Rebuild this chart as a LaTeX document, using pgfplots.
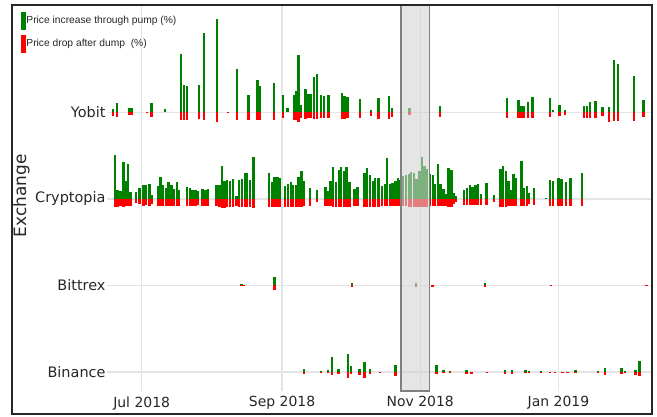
\documentclass[border=0pt]{standalone}
\usepackage{pgfplots}
\pgfplotsset{compat=1.18}
\usepackage{pgfplotstable}
\usepackage{fontspec}
\setmainfont{DejaVu Sans}
\newfontfamily\legendfont{Liberation Sans}
\definecolor{pgreen}{RGB}{0,128,0}
\definecolor{pred}{RGB}{255,0,0}
\definecolor{gridc}{RGB}{228,228,228}
\definecolor{boxc}{RGB}{211,211,211}
\definecolor{boxline}{RGB}{128,128,128}

% day = days since 1 Jul 2018; h = pump height, d = dump depth
\pgfplotstableread{
day h d
-12.7 3 3.3
-10.8 9 4.3
-5.7 4.7 2.7
-4.4 4.7 2.7
2.3 0.7 1
4.4 9 4.3
10.4 3 0
17.5 58 7.7
18.7 27 7.7
20.0 26 7.7
25.3 27 7
27.4 79 7.7
33.2 93 9.3
38.1 0 0.5
42.2 43 7.7
47.2 17 7.7
51.2 32 7.7
52.2 26 7.7
58.5 29 7.7
62.4 17 6
64.3 4 0
67.4 17 7.7
68.4 21 7.7
69.3 57 9.3
70.3 7 6
72.4 23 6.7
73.4 18 6
74.6 18 6
76.2 35 6.7
77.4 38 6.7
79.3 17 6
80.5 16 6
82.5 17 6
88.4 19 6.7
89.5 16 6.7
90.8 15 6
96.4 13 6
101.2 2.3 3.3
104.5 14 6.7
109.3 16 6.7
110.5 4 5
118.3 4 2.7
131.6 6 4.3
161.4 14 6
166.4 12 6
167.6 6 6
168.7 6.5 6
170.6 10 6
172.5 15 6
180.3 14 5
181.5 2 0
184.4 7 3.7
186.8 2 2.7
195.4 6 6
196.6 6 6
197.8 10 6
200.4 11 6
203.4 5 3.7
206.4 5 10
208.5 52 8.3
210.4 48 8.3
217.3 36 8.3
221.5 12 5
}\yobit

\pgfplotstableread{
day h d
-11.8 43.7 8.3
-10.6 8.7 8.3
-9.3 7.7 7.3
-8.1 37 8.3
-7.1 17.7 7.3
-6.0 35 7.3
-5.0 7 7.3
-2.6 7 4
-0.9 11 5
0.9 13.7 7.3
2.0 14.3 6
3.4 15 7.3
4.5 4.3 5
7.2 12.7 7.3
8.4 21.7 7.3
9.5 14.3 7.3
10.7 11 7.3
11.9 17 7.3
13.1 14.3 7.3
14.3 10.3 7.3
15.5 17 7.3
16.6 9.3 7.3
20.1 12.3 7.3
21.3 11 7.3
22.5 9.3 7.3
23.7 9.3 7.3
24.9 8.3 6
26.9 10.3 7.3
28.1 9 7.3
29.3 10.3 7.3
33.1 13.7 7.3
34.3 14.3 8.3
35.5 33 9
36.6 18.3 9
37.8 19 8.3
39.0 18.3 8.3
40.4 20.3 8.3
41.9 2.7 7.3
43.1 19 8.3
44.3 20 8.3
45.5 26 8.3
46.6 26 8.3
47.8 19.3 8.3
49.3 42.3 9
56.3 26 8.3
57.5 17 8.3
58.7 21.7 8.3
59.9 21.7 8.3
60.9 21 8.3
63.4 13.3 8.3
64.6 15 8.3
65.8 17 8.3
66.9 14.3 8.3
68.1 14.3 8.3
69.3 21.7 8.3
70.5 27.7 8.3
71.5 17.7 7.3
74.3 11 7.3
77.3 9.3 3
81.1 11.7 7.3
82.3 7.7 7.3
83.4 17.7 7.3
84.6 32.3 8.3
85.8 17 8.3
87.0 29 8.3
88.1 32.3 8.3
89.3 27.7 8.3
90.5 32.3 8.3
91.7 17 8.3
94.0 10.3 7.3
95.2 11.7 7.3
98.4 25.7 8.3
99.6 31 8.3
100.8 24.3 8.3
102.0 18.3 8.3
103.1 21 8.3
104.5 21 8.3
106.1 13 7
107.3 14.7 7
108.4 41.3 7
109.6 14.7 7
110.8 16.3 7
112.0 18 7
113.2 21.3 7
114.3 18.7 7
115.5 23 7
116.7 24 7
117.9 24.7 8
119.0 27.3 8
120.2 26.3 8
121.4 19.7 8
122.6 28 8
123.8 42 8
124.9 33 8
126.1 29.7 8
127.3 24.7 7
128.5 24 7
129.6 14.7 7
130.8 34.7 7
132.0 14.7 7
133.2 9.7 7
134.3 4.7 7
135.5 31.3 8
136.7 28.7 8
137.9 6.3 5
138.9 3 3
142.3 9.3 6
143.5 10.7 6
144.9 14 6
146.1 12 6
147.3 14 6
148.5 14.7 6
149.7 4.7 6
152.3 16 6
155.5 3.7 3
158.5 29.7 8
159.6 33 8
160.8 28 8
162.0 18 7
163.2 8.7 7
164.1 24.7 7
165.3 21.3 7
167.6 38 7
168.8 11.3 7
170.0 13 7
171.1 6.3 5
173.2 11.3 6
178.5 1 0
180.3 19.3 7
181.5 18 7
184.1 20.7 7
185.3 19.7 7
187.3 17.3 7
189.4 21.3 7
194.4 26.3 7
}\cryptopia

\pgfplotstableread{
day h d
44.0 1.8 1.1
45.2 0 0.6
58.7 8.6 4.3
92.9 2.1 1.8
121.0 2 1.5
128.4 0 1.2
151.6 2.2 1.3
180.6 0 0.6
222.8 0 0.6
}\bittrex

\pgfplotstableread{
day h d
71.6 2.5 1.8
79.3 0.7 1.1
82.2 1.8 0.7
84.1 14.6 3.2
86.9 3.2 1.8
91.0 17.9 5.7
92.3 5.4 1.8
96.1 3.2 2.9
98.3 9.6 5.7
100.8 2.5 1.8
105.2 0.3 0.8
112.1 6.4 3.9
130.1 7.1 1.8
133.3 1.8 1.1
136.1 1 1.1
143.4 1.8 2.5
145.6 0.3 1.8
152.5 0 0.8
160.4 1.8 2.1
163.5 1.4 1.8
169.5 1.8 1.1
170.9 0.7 0.7
176.2 0.7 0.3
180.3 0.3 1.4
182.6 0 1.1
185.8 0.3 0.7
188.0 0.3 0.7
191.5 1.4 0.7
201.4 0.4 0.4
204.5 4.3 2.9
211.8 3.9 1.8
213.4 0.7 0.7
218.1 1.8 3.2
219.7 11 4.6
}\binance

\begin{document}
\begin{tikzpicture}
\path[use as bounding box] (0,0) rectangle (657bp,-417bp);
\begin{axis}[
  at={(107bp,-391bp)}, anchor=south west,
  width=545bp, height=386bp, scale only axis,
  xmin=-15.3, xmax=225.3, ymin=-19.2, ymax=366.8,
  axis line style={draw=none},
  xtick={0,62,123,184},
  xticklabels={Jul 2018,Sep 2018,Nov 2018,Jan 2019},
  ytick={0,86.5,173,259.5},
  yticklabels={Binance,Bittrex,Cryptopia,Yobit},
  major tick length=0pt,
  xmajorgrids, ymajorgrids,
  grid style={gridc, line width=1.5bp},
  xticklabel style={font=\fontsize{14}{16}\selectfont, text=black!85, yshift=-2bp},
  yticklabel style={font=\fontsize{14.5}{17}\selectfont, text=black!85, xshift=2bp},
  ylabel={Exchange},
  ylabel style={font=\fontsize{17}{20}\selectfont, text=black!85, at={(axis description cs:-0.157,0.506)}, anchor=center},
  legend style={draw=none, fill=none, at={(axis description cs:-0.159,0.983)}, anchor=north west,
    inner sep=0pt, row sep=6bp, font=\fontsize{10.3}{12}\legendfont, text=black!85,
    nodes={inner sep=1.5bp}},
  legend cell align=left,
]
\addlegendimage{legend image code/.code={\fill[pgreen] (0bp,-8.5bp) rectangle (4bp,8.5bp);}}
\addlegendentry{Price increase through pump (\%)}
\addlegendimage{legend image code/.code={\fill[pred] (0bp,-8.5bp) rectangle (4bp,8.5bp);}}
\addlegendentry{Price drop after dump\ \ (\%)}

\addplot[quiver={u=0,v=\thisrow{h}}, pgreen, line width=2.4bp] table[x=day, y expr=259.5] {\yobit};
\addplot[quiver={u=0,v=-\thisrow{d}}, pred, line width=2.4bp] table[x=day, y expr=259.5] {\yobit};
\addplot[quiver={u=0,v=\thisrow{h}}, pgreen, line width=2.4bp] table[x=day, y expr=173] {\cryptopia};
\addplot[quiver={u=0,v=-\thisrow{d}}, pred, line width=2.4bp] table[x=day, y expr=173] {\cryptopia};
\addplot[quiver={u=0,v=\thisrow{h}}, pgreen, line width=2.4bp] table[x=day, y expr=86.5] {\bittrex};
\addplot[quiver={u=0,v=-\thisrow{d}}, pred, line width=2.4bp] table[x=day, y expr=86.5] {\bittrex};
\addplot[quiver={u=0,v=\thisrow{h}}, pgreen, line width=2.4bp] table[x=day, y expr=0] {\binance};
\addplot[quiver={u=0,v=-\thisrow{d}}, pred, line width=2.4bp] table[x=day, y expr=0] {\binance};

\draw[draw=boxline, line width=1.3bp, fill=boxc, fill opacity=0.6] (axis cs:114.5,-19.2) rectangle (axis cs:127,366.8);
\end{axis}
\draw[black!85, line width=1.3bp] (12bp,-5bp) rectangle (652bp,-414bp);
\end{tikzpicture}
\end{document}
